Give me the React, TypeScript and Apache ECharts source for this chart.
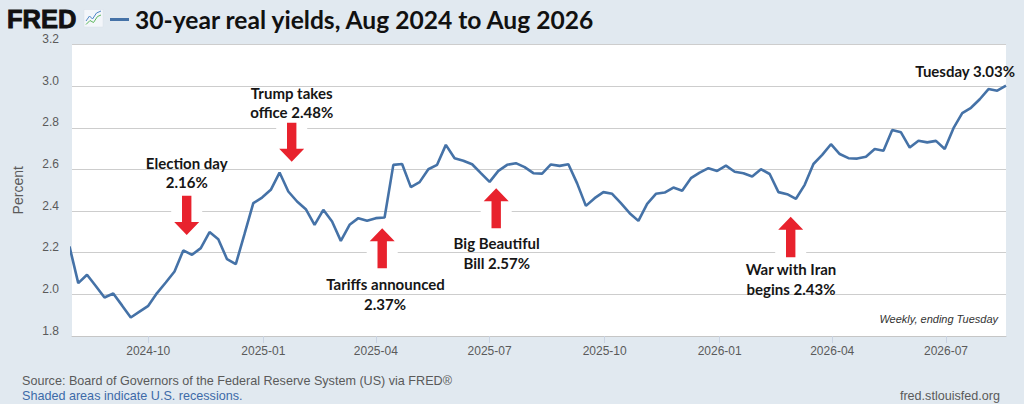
import React, { useEffect, useRef } from "react";
import * as echarts from "echarts";

// Weekly observations (ending Tuesday), first week ending 2024-07-30
const firstWeek = [2024, 6, 30]; // year, month index, day
const yields2024 = [
  2.23, 2.054, 2.094, 2.04, 1.985, 2.004, 1.947, 1.889, 1.917, 1.945, 2.006, 2.057,
  2.11, 2.211, 2.19, 2.222, 2.299, 2.265, 2.169, 2.145, 2.29, 2.438, 2.465,
];
const yields2025 = [
  2.502, 2.585, 2.494, 2.446, 2.409, 2.334, 2.406, 2.35, 2.257, 2.334, 2.366, 2.353,
  2.366, 2.369, 2.622, 2.626, 2.515, 2.539, 2.601, 2.622, 2.718, 2.654, 2.642, 2.625,
  2.582, 2.54, 2.593, 2.622, 2.63, 2.611, 2.582, 2.58, 2.624, 2.617, 2.625, 2.533,
  2.425, 2.462, 2.491, 2.483, 2.438, 2.39, 2.353, 2.435, 2.483, 2.489, 2.513, 2.498,
  2.558, 2.585, 2.606, 2.593,
];
const yields2026 = [
  2.618, 2.589, 2.582, 2.566, 2.601, 2.578, 2.491, 2.481, 2.459, 2.526, 2.626, 2.67,
  2.721, 2.674, 2.654, 2.652, 2.661, 2.698, 2.69, 2.789, 2.778, 2.705, 2.738, 2.73,
  2.737, 2.698, 2.798, 2.87, 2.896, 2.937, 2.986, 2.978, 3.002,
];
const xTickLabels = ["2024-10", "2025-01", "2025-04", "2025-07", "2025-10", "2026-01", "2026-04", "2026-07"];
const xRange = ["2024-08-01", "2026-08-18"];
const yTicks = { min: 1.8, max: 3.2, step: 0.2 };

const titleText = "30-year real yields, Aug 2024 to Aug 2026";

const parseDay = (s: string) => {
  const [y, m, d] = s.split("-").map(Number);
  return new Date(y, m - 1, d || 1).getTime();
};

const allYields = [...yields2024, ...yields2025, ...yields2026];
const seriesData = allYields.map((v, i) => [
  new Date(firstWeek[0], firstWeek[1], firstWeek[2] + 7 * i).getTime(),
  v,
]);
const tickValues = xTickLabels.map((s) => parseDay(s));

const RED = "#e8222d";
const LINE = "#4572a7";
const TXT = "#161616";
const ANNO_FONT = "Lato, 'Open Sans', sans-serif";
const AX_FONT = "'Liberation Sans', Arial, sans-serif";

function downArrow(cx: number, y0: number, y1: number) {
  const sw = 4.7, hw = 12.5, hh = 13;
  return [
    [cx - sw, y0], [cx + sw, y0], [cx + sw, y1 - hh], [cx + hw, y1 - hh],
    [cx, y1], [cx - hw, y1 - hh], [cx - sw, y1 - hh],
  ];
}
function upArrow(cx: number, y0: number, y1: number) {
  const sw = 4.7, hw = 12.5, hh = 13;
  return [
    [cx, y0], [cx + hw, y0 + hh], [cx + sw, y0 + hh], [cx + sw, y1],
    [cx - sw, y1], [cx - sw, y0 + hh], [cx - hw, y0 + hh],
  ];
}

function arrowGroup(points: number[][], cx: number, top: number, bottom: number) {
  return [
    {
      type: "rect",
      shape: { x: cx - 15.5, y: top - 1, width: 31, height: bottom - top + 2 },
      style: { fill: "#ffffff" },
      z: 5,
    },
    { type: "polygon", shape: { points }, style: { fill: RED }, z: 6 },
  ];
}

function annoText(text: string, x: number, y: number, align = "center") {
  return {
    type: "text",
    x,
    y,
    z: 7,
    style: {
      text,
      fill: TXT,
      font: `bold 15px ${ANNO_FONT}`,
      textAlign: align,
      textVerticalAlign: "middle",
    },
  };
}

function footText(text: string, x: number, y: number, fill: string, align = "left") {
  return {
    type: "text",
    x,
    y,
    style: {
      text,
      fill,
      font: `12.6px ${AX_FONT}`,
      textAlign: align,
      textVerticalAlign: "middle",
    },
  };
}

const fmtMonth = (val: number) => {
  const d = new Date(val);
  return `${d.getFullYear()}-${String(d.getMonth() + 1).padStart(2, "0")}`;
};

export default function App() {
  const ref = useRef<HTMLDivElement>(null);

  useEffect(() => {
    if (!ref.current) return;
    const chart = echarts.init(ref.current, undefined, { renderer: "svg" });

    const option: any = {
      animation: false,
      backgroundColor: "#e1e9f0",
      grid: {
        left: 72,
        right: 18,
        top: 44.5,
        bottom: 68,
        show: true,
        backgroundColor: "#ffffff",
        borderWidth: 0,
      },
      xAxis: {
        type: "value",
        min: parseDay(xRange[0]),
        max: parseDay(xRange[1]),
        axisLine: { show: true, lineStyle: { color: "#c6c6c6", width: 1 } },
        axisTick: {
          show: true,
          customValues: tickValues,
          length: 7,
          lineStyle: { color: "#c9d3e2" },
        },
        axisLabel: {
          customValues: tickValues,
          color: "#5a5a5a",
          fontSize: 12,
          fontFamily: AX_FONT,
          margin: 9,
          hideOverlap: false,
          showMinLabel: true,
          showMaxLabel: true,
          formatter: fmtMonth,
        },
        splitLine: { show: false },
      },
      yAxis: {
        type: "value",
        min: yTicks.min,
        max: yTicks.max,
        interval: yTicks.step,
        name: "Percent",
        nameLocation: "middle",
        nameRotate: 90,
        nameGap: 47,
        nameTextStyle: {
          color: "#5a5a5a",
          fontSize: 14,
          fontFamily: AX_FONT,
        },
        axisLine: { show: false },
        axisTick: { show: false },
        axisLabel: {
          color: "#5a5a5a",
          fontSize: 12,
          fontFamily: AX_FONT,
          margin: 13,
          verticalAlign: "bottom",
          lineHeight: 11,
          formatter: (v: number) => v.toFixed(1),
        },
        splitLine: { show: true, lineStyle: { color: "#cdcdcd", width: 1 } },
      },
      series: [
        {
          type: "line",
          data: seriesData,
          showSymbol: false,
          clip: true,
          lineStyle: { color: LINE, width: 2.6 },
          itemStyle: { color: LINE },
          z: 3,
        },
      ],
      graphic: [
        {
          type: "text",
          x: 7,
          y: 18.5,
          style: {
            text: "FRED",
            fill: "#111111",
            stroke: "#111111",
            lineWidth: 0.9,
            font: `bold 25.5px ${AX_FONT}`,
            textVerticalAlign: "middle",
          },
        },
        {
          type: "rect",
          shape: { x: 84, y: 9.5, width: 19, height: 17.5 },
          style: { fill: "#f3f6fa", stroke: "#d8e0ea", lineWidth: 0.5 },
        },
        {
          type: "polyline",
          shape: { points: [[86, 21], [89.5, 16], [92.5, 19], [96.5, 13], [101, 11]] },
          style: { stroke: "#4f86c6", lineWidth: 1, fill: "none" },
        },
        {
          type: "polyline",
          shape: { points: [[86, 24.5], [90, 20.5], [93.5, 22.5], [97.5, 16.5], [101, 15]] },
          style: { stroke: "#5cb85c", lineWidth: 1, fill: "none" },
        },
        {
          type: "line",
          shape: { x1: 110, y1: 19.5, x2: 129, y2: 19.5 },
          style: { stroke: LINE, lineWidth: 3 },
        },
        {
          type: "text",
          x: 135,
          y: 19.5,
          style: {
            text: titleText,
            fill: "#111111",
            font: `bold 24.6px ${ANNO_FONT}`,
            textVerticalAlign: "middle",
          },
        },
        ...arrowGroup(downArrow(186.7, 195.7, 235), 186.7, 195.7, 235),
        annoText("Election day", 186.7, 162.7),
        annoText("2.16%", 186.7, 182.3),
        ...arrowGroup(downArrow(291.7, 122.7, 161.7), 291.7, 122.7, 161.7),
        annoText("Trump takes", 291.7, 93.3),
        annoText("office 2.48%", 291.7, 111.7),
        ...arrowGroup(upArrow(382.2, 228.3, 268.3), 382.2, 228.3, 268.3),
        annoText("Tariffs announced", 385.5, 284.3),
        annoText("2.37%", 385, 304.3),
        ...arrowGroup(upArrow(496.2, 188.3, 228.3), 496.2, 188.3, 228.3),
        annoText("Big Beautiful", 496.7, 242.7),
        annoText("Bill 2.57%", 496.7, 263.3),
        ...arrowGroup(upArrow(790.7, 216.7, 257.3), 790.7, 216.7, 257.3),
        annoText("War with Iran", 791, 269),
        annoText("begins 2.43%", 791, 289.3),
        annoText("Tuesday 3.03%", 1015, 70.7, "right"),
        {
          type: "text",
          x: 998,
          y: 318.5,
          z: 7,
          style: {
            text: "Weekly, ending Tuesday",
            fill: "#333333",
            font: `italic 11px ${AX_FONT}`,
            textAlign: "right",
            textVerticalAlign: "middle",
          },
        },
        footText("Source: Board of Governors of the Federal Reserve System (US) via FRED®", 22, 381, "#5a5a5a"),
        footText("Shaded areas indicate U.S. recessions.", 22, 396, "#3d6aa8"),
        footText("fred.stlouisfed.org", 1000, 396, "#5a5a5a", "right"),
      ],
    };

    chart.setOption(option);
    return () => chart.dispose();
  }, []);

  return (
    <div
      ref={ref}
      style={{ position: "absolute", left: 0, top: 0, width: 1024, height: 404 }}
    />
  );
}
